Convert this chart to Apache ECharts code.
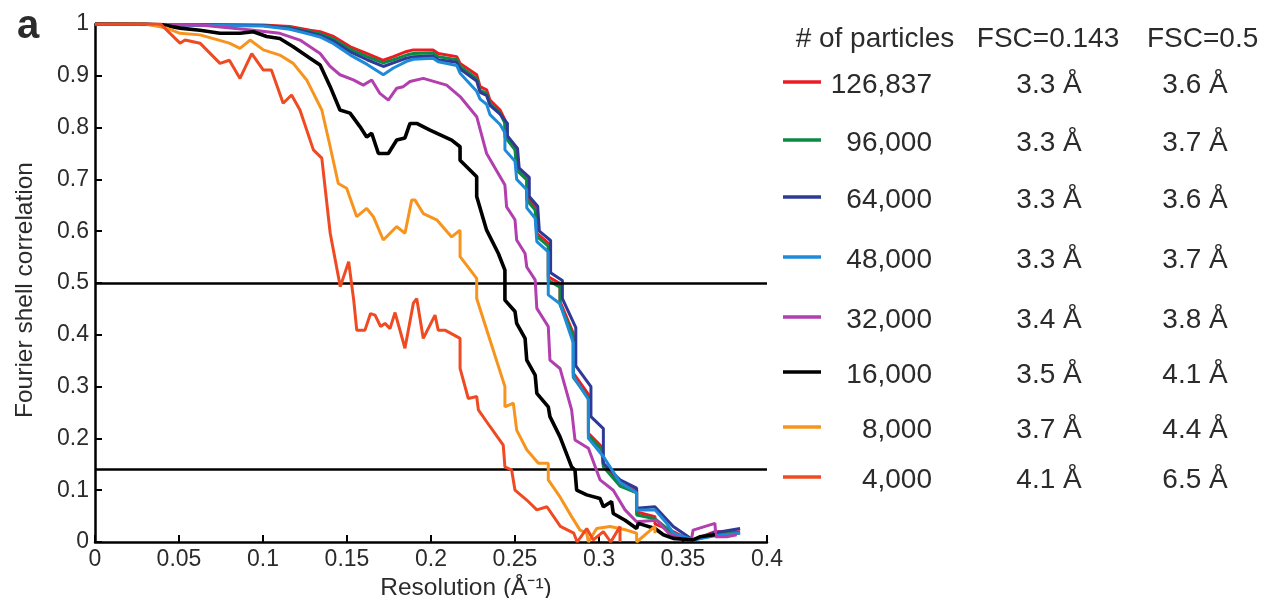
<!DOCTYPE html>
<html>
<head>
<meta charset="utf-8">
<script src="https://cdn.jsdelivr.net/npm/echarts@6/dist/echarts.min.js"></script>
<style>
html, body { margin: 0; padding: 0; background: #fff; }
#chart { width: 1263px; height: 598px; }
</style>
</head>
<body>
<div id="chart"></div>
<script>
// table columns
var particleCounts = ['126,837', '96,000', '64,000', '48,000', '32,000', '16,000', '8,000', '4,000'];
var resAt0143 = ['3.3 Å', '3.3 Å', '3.3 Å', '3.3 Å', '3.4 Å', '3.5 Å', '3.7 Å', '4.1 Å'];
var resAt05 = ['3.6 Å', '3.7 Å', '3.6 Å', '3.7 Å', '3.8 Å', '4.1 Å', '4.4 Å', '6.5 Å'];
var thresholds = [0.5, 0.143];

// FSC curves, [resolution (1/A), correlation]
var fsc126837 = [[0,1],[0.1,0.998],[0.116,0.995],[0.128,0.988],[0.134,0.985],[0.142,0.976],[0.152,0.956],[0.162,0.943],[0.1716,0.930],[0.1776,0.937],[0.1855,0.947],[0.1895,0.950],[0.2012,0.950],[0.2043,0.943],[0.2153,0.937],[0.2173,0.924],[0.2272,0.902],[0.2292,0.879],[0.2331,0.873],[0.2351,0.853],[0.2411,0.834],[0.244,0.815],[0.244,0.789],[0.25,0.763],[0.251,0.724],[0.257,0.705],[0.257,0.667],[0.262,0.647],[0.263,0.596],[0.2698,0.577],[0.2698,0.512],[0.2768,0.499],[0.2768,0.464],[0.2847,0.403],[0.2847,0.326],[0.2937,0.285],[0.2937,0.21],[0.3016,0.184],[0.3026,0.15],[0.3125,0.113],[0.3224,0.100],[0.3224,0.058],[0.3333,0.049],[0.3333,0.035],[0.3442,0.020],[0.3502,0.010],[0.356,0.004],[0.369,0.020],[0.384,0.020]];
var fsc96000 = [[0,1],[0.1,0.997],[0.116,0.993],[0.128,0.985],[0.134,0.981],[0.142,0.971],[0.152,0.951],[0.162,0.937],[0.1716,0.925],[0.1776,0.931],[0.1855,0.940],[0.1895,0.943],[0.2012,0.944],[0.2043,0.937],[0.2153,0.931],[0.2173,0.918],[0.2272,0.895],[0.2292,0.872],[0.2331,0.866],[0.2351,0.846],[0.2411,0.828],[0.244,0.808],[0.244,0.782],[0.25,0.757],[0.251,0.718],[0.257,0.699],[0.257,0.660],[0.262,0.641],[0.263,0.590],[0.2698,0.571],[0.2698,0.505],[0.2768,0.492],[0.2768,0.458],[0.2847,0.397],[0.2847,0.318],[0.2937,0.278],[0.2937,0.205],[0.3016,0.178],[0.3026,0.145],[0.3125,0.108],[0.3224,0.095],[0.3224,0.052],[0.3333,0.045],[0.3442,0.016],[0.356,0.004],[0.369,0.014],[0.384,0.018]];
var fsc64000 = [[0,1],[0.1,0.997],[0.116,0.992],[0.128,0.983],[0.134,0.978],[0.142,0.967],[0.152,0.946],[0.162,0.931],[0.1716,0.918],[0.1776,0.925],[0.1855,0.934],[0.1895,0.937],[0.2012,0.938],[0.2043,0.931],[0.2153,0.926],[0.2173,0.913],[0.2272,0.890],[0.2292,0.868],[0.2331,0.862],[0.2351,0.843],[0.2411,0.826],[0.2455,0.808],[0.2455,0.784],[0.2515,0.760],[0.2525,0.722],[0.2585,0.704],[0.2585,0.667],[0.2635,0.648],[0.2645,0.600],[0.2712,0.582],[0.2712,0.520],[0.2782,0.505],[0.2782,0.470],[0.2862,0.414],[0.2862,0.340],[0.2952,0.300],[0.2952,0.242],[0.3026,0.219],[0.3026,0.152],[0.3125,0.120],[0.3224,0.104],[0.3224,0.065],[0.3333,0.068],[0.3442,0.030],[0.356,0.004],[0.369,0.018],[0.384,0.026]];
var fsc48000 = [[0,1],[0.1,0.996],[0.116,0.990],[0.128,0.980],[0.134,0.975],[0.142,0.962],[0.152,0.940],[0.162,0.922],[0.1716,0.902],[0.1776,0.915],[0.1855,0.928],[0.1895,0.932],[0.2012,0.934],[0.2043,0.927],[0.2153,0.920],[0.2173,0.905],[0.2272,0.870],[0.2292,0.855],[0.2331,0.845],[0.2351,0.825],[0.2411,0.806],[0.244,0.790],[0.244,0.757],[0.25,0.735],[0.251,0.700],[0.257,0.680],[0.257,0.645],[0.262,0.625],[0.263,0.580],[0.2698,0.560],[0.2698,0.477],[0.2768,0.460],[0.2847,0.384],[0.2847,0.320],[0.2937,0.275],[0.2937,0.200],[0.3026,0.165],[0.3125,0.115],[0.3224,0.095],[0.3224,0.062],[0.3333,0.062],[0.3403,0.036],[0.3442,0.017],[0.356,0.004],[0.369,0.012],[0.384,0.017]];
var fsc32000 = [[0,1],[0.0625,0.998],[0.0823,0.992],[0.0942,0.988],[0.110,0.982],[0.122,0.969],[0.134,0.943],[0.140,0.918],[0.1458,0.902],[0.1538,0.892],[0.1597,0.882],[0.1647,0.892],[0.1696,0.866],[0.1746,0.853],[0.1796,0.876],[0.1835,0.879],[0.1875,0.889],[0.1954,0.895],[0.2093,0.882],[0.2173,0.860],[0.2272,0.821],[0.2331,0.750],[0.2401,0.711],[0.244,0.689],[0.245,0.647],[0.25,0.622],[0.251,0.583],[0.256,0.557],[0.257,0.531],[0.262,0.506],[0.263,0.451],[0.2698,0.416],[0.2708,0.351],[0.2768,0.335],[0.2837,0.255],[0.2857,0.197],[0.2937,0.181],[0.3006,0.120],[0.3085,0.100],[0.3155,0.062],[0.3224,0.039],[0.3343,0.042],[0.3423,0.014],[0.348,0.008],[0.355,0.004],[0.356,0.023],[0.369,0.036],[0.3696,0.010],[0.376,0.010],[0.382,0.014]];
var fsc16000 = [[0,1],[0.0298,1],[0.0407,0.998],[0.0506,0.992],[0.0625,0.988],[0.0744,0.982],[0.0863,0.982],[0.0942,0.985],[0.1022,0.976],[0.110,0.972],[0.118,0.956],[0.128,0.934],[0.134,0.921],[0.140,0.879],[0.1458,0.834],[0.1518,0.828],[0.1577,0.802],[0.1617,0.782],[0.1647,0.789],[0.1687,0.750],[0.1746,0.750],[0.1796,0.776],[0.1845,0.780],[0.1875,0.808],[0.1915,0.808],[0.1994,0.795],[0.2123,0.776],[0.2173,0.763],[0.2173,0.737],[0.2272,0.705],[0.2272,0.667],[0.2331,0.602],[0.2401,0.557],[0.244,0.525],[0.244,0.467],[0.25,0.445],[0.251,0.422],[0.256,0.393],[0.257,0.351],[0.262,0.322],[0.263,0.287],[0.2698,0.261],[0.2708,0.242],[0.2768,0.203],[0.2837,0.145],[0.2857,0.139],[0.2867,0.100],[0.2927,0.091],[0.3006,0.084],[0.3026,0.068],[0.3075,0.078],[0.3085,0.055],[0.3155,0.042],[0.3224,0.026],[0.3234,0.036],[0.3333,0.026],[0.3383,0.014],[0.3442,0.007],[0.356,0.004],[0.36,0.010],[0.369,0.014]];
var fsc8000 = [[0,1],[0.03,1],[0.0427,0.992],[0.0506,0.982],[0.0625,0.979],[0.080,0.963],[0.0863,0.953],[0.0923,0.969],[0.1002,0.950],[0.110,0.940],[0.118,0.924],[0.126,0.892],[0.135,0.834],[0.140,0.763],[0.1448,0.692],[0.1498,0.683],[0.1558,0.628],[0.1617,0.644],[0.1657,0.628],[0.1716,0.583],[0.1796,0.609],[0.1845,0.596],[0.1885,0.660],[0.1905,0.660],[0.1954,0.634],[0.2034,0.622],[0.2123,0.589],[0.2173,0.602],[0.2173,0.551],[0.2272,0.509],[0.2272,0.470],[0.2351,0.390],[0.244,0.300],[0.244,0.261],[0.249,0.268],[0.251,0.216],[0.257,0.178],[0.2639,0.152],[0.2698,0.152],[0.2698,0.120],[0.2768,0.087],[0.2837,0.049],[0.2887,0.023],[0.2927,0.017],[0.2937,0.0],[0.2986,0.026],[0.3066,0.030],[0.3164,0.023],[0.3224,0.017],[0.3224,0.0],[0.3333,0.030],[0.3333,0.017]];
var fsc4000 = [[0,1],[0.039,1],[0.0506,0.963],[0.0536,0.969],[0.0625,0.963],[0.0744,0.924],[0.080,0.930],[0.0863,0.895],[0.0933,0.943],[0.1002,0.911],[0.105,0.911],[0.112,0.847],[0.117,0.863],[0.122,0.834],[0.130,0.757],[0.135,0.741],[0.140,0.596],[0.146,0.493],[0.151,0.541],[0.154,0.467],[0.1558,0.409],[0.1607,0.409],[0.164,0.441],[0.1667,0.438],[0.170,0.416],[0.1726,0.422],[0.1756,0.412],[0.1786,0.443],[0.1845,0.374],[0.1895,0.461],[0.1915,0.470],[0.1954,0.393],[0.2024,0.438],[0.2043,0.409],[0.2083,0.409],[0.2173,0.393],[0.2173,0.335],[0.2222,0.277],[0.2272,0.281],[0.2282,0.255],[0.2351,0.223],[0.243,0.187],[0.244,0.145],[0.248,0.139],[0.25,0.100],[0.257,0.081],[0.263,0.062],[0.269,0.068],[0.277,0.030],[0.285,0.017],[0.287,0.0],[0.2927,0.026],[0.2966,0.004],[0.3026,0.020],[0.307,0.0],[0.3125,0.030],[0.3125,0.0]];

var curves = [fsc126837, fsc96000, fsc64000, fsc48000, fsc32000, fsc16000, fsc8000, fsc4000];
var colors = ['#ed1c24', '#0b8a43', '#2e3a96', '#1f8ad8', '#b23fae', '#000000', '#f7941d', '#f04a23'];
var widths = [3, 3, 3, 3, 3, 3.6, 3, 3];

var chart = echarts.init(document.getElementById('chart'));
var font = '"Liberation Sans", Arial, sans-serif';
var textColor = '#2b2b2b';

var series = curves.map(function (d, i) {
	return {
		name: particleCounts[i],
		type: 'line',
		data: d,
		showSymbol: false,
		symbol: 'none',
		animation: false,
		lineStyle: { color: colors[i], width: widths[i] },
		z: 2 + i
	};
});
// FSC threshold lines
series[0].markLine = {
	silent: true,
	symbol: 'none',
	animation: false,
	label: { show: false },
	lineStyle: { color: '#000', width: 2.5, type: 'solid' },
	data: thresholds.map(function (t) { return { yAxis: t }; })
};

// legend table
var rowY = [85, 143, 200, 260, 320, 375, 430, 480];
function txt(s, x, y, size, align, weight) {
	return {
		type: 'text',
		style: {
			text: s, x: x, y: y, fontSize: size, fontWeight: weight || 'normal', fontFamily: font, fill: textColor,
			align: align, textAlign: align, verticalAlign: 'middle', textVerticalAlign: 'middle'
		}
	};
}
var graphics = [
	txt('a', 17, 27, 40, 'left', 'bold'),
	txt('# of particles', 875, 39, 28, 'center'),
	txt('FSC=0.143', 1048, 39, 28, 'center'),
	txt('FSC=0.5', 1147, 39, 28, 'left')
];
particleCounts.forEach(function (p, i) {
	var y = rowY[i];
	graphics.push({ type: 'line', shape: { x1: 783, y1: y - 3, x2: 821, y2: y - 3 }, style: { stroke: colors[i], lineWidth: 3.5 } });
	graphics.push(txt(p, 932, y, 28, 'right'));
	graphics.push(txt(resAt0143[i], 1049, y, 28, 'center'));
	graphics.push(txt(resAt05[i], 1195, y, 28, 'center'));
});

var option = {
	backgroundColor: '#fff',
	animation: false,
	grid: { left: 95, top: 24, right: 496, bottom: 56, containLabel: false, outerBoundsMode: 'none' },
	xAxis: {
		type: 'value',
		min: 0, max: 0.4, interval: 0.05,
		name: 'Resolution (Å⁻¹)',
		nameLocation: 'middle',
		nameGap: 30,
		nameTextStyle: { fontSize: 24.5, fontFamily: font, color: textColor, padding: [0, 0, 0, 70] },
		axisLine: { show: true, onZero: false, lineStyle: { color: '#000', width: 2.5 } },
		axisTick: { show: true, inside: true, length: 7, lineStyle: { color: '#000', width: 2 } },
		axisLabel: { fontSize: 23, fontFamily: font, color: textColor, margin: 6 },
		splitLine: { show: false }
	},
	yAxis: {
		type: 'value',
		min: 0, max: 1, interval: 0.1,
		name: 'Fourier shell correlation',
		nameLocation: 'middle',
		nameGap: 57,
		nameTextStyle: { fontSize: 24.5, fontFamily: font, color: textColor, padding: [0, 14, 0, 0] },
		axisLine: { show: true, onZero: false, lineStyle: { color: '#000', width: 2.5 } },
		axisTick: { show: true, inside: true, length: 7, lineStyle: { color: '#000', width: 2 } },
		axisLabel: { fontSize: 23, fontFamily: font, color: textColor, margin: 6 },
		splitLine: { show: false }
	},
	graphic: graphics,
	series: series
};
chart.setOption(option);
</script>
</body>
</html>
